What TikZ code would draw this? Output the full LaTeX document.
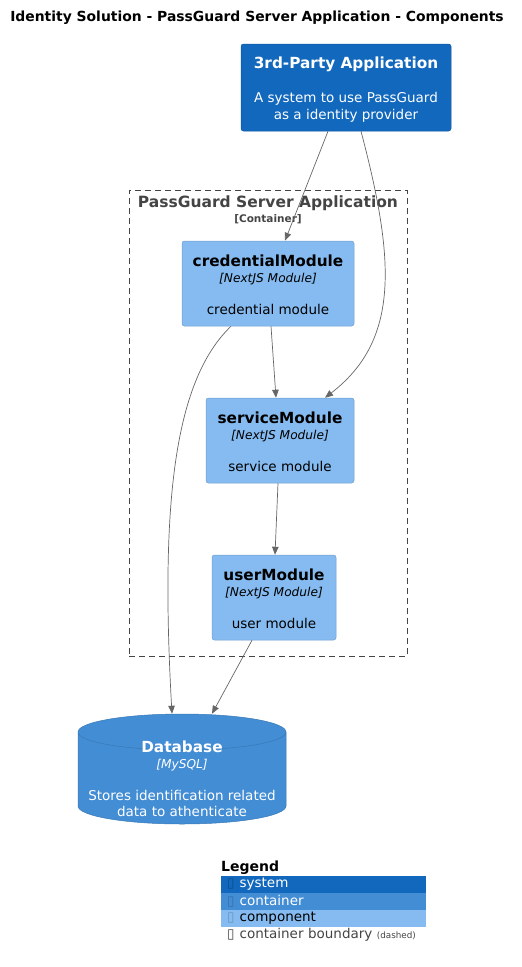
\documentclass[tikz,border=0pt]{standalone}
\usepackage{fontspec}
\setmainfont{DejaVu Sans}
\usetikzlibrary{arrows.meta,shapes.geometric}
\definecolor{sysblue}{HTML}{1168BD}
\definecolor{contblue}{HTML}{438DD5}
\definecolor{compblue}{HTML}{85BBF0}
\definecolor{edgegray}{HTML}{666666}
\definecolor{bndgray}{HTML}{444444}
\newcommand{\ttl}[1]{{\fontsize{15.3}{18}\selectfont\bfseries #1}}
\newcommand{\tech}[1]{{\fontsize{12.2}{14}\selectfont\itshape [#1]}}
\newcommand{\icn}{▯\hspace{5pt}}
\begin{document}
\begin{tikzpicture}[x=1pt, y=-1pt, font=\fontsize{13.5}{16}\selectfont,
	box/.style={rectangle, rounded corners=2.5pt, align=center, inner sep=0pt, line width=0.5pt},
	sys/.style={box, fill=sysblue, draw=sysblue!85!black, text=white, minimum height=87pt},
	comp/.style={box, fill=compblue, draw=compblue!85!black, minimum height=85pt},
	rel/.style={-{Triangle[length=8pt,width=6.5pt]}, draw=edgegray, line width=0.7pt},
	legrow/.style={anchor=north west, minimum height=16.5pt, inner ysep=0pt, inner xsep=6pt, text width=193pt, align=left}]
	\useasboundingbox (0,0) rectangle (522,967);
	\node (title) at (257,18) {\fontsize{13.9}{16}\selectfont\bfseries Identity Solution - PassGuard Server Application - Components};

	\node[draw=bndgray, dash pattern=on 6pt off 4pt, line width=0.7pt, minimum width=278pt, minimum height=466pt, inner sep=0pt] (bnd) at (268,423) {};
	\node[text=bndgray, align=center, font=\fontsize{15.5}{15.5}\selectfont] (bndname) at (268,210) {\bfseries PassGuard Server Application\\{\fontsize{10.5}{12}\selectfont\bfseries [Container]}};

	\node[sys, minimum width=210pt] (tp) at (346,87.5) {\rule{0pt}{15pt}\ttl{3rd-Party Application}\\[18pt]A system to use PassGuard\\[1pt]as a identity provider};
	\node[comp, minimum width=172pt] (cred) at (268,283.5) {\rule{0pt}{13.5pt}\ttl{credentialModule}\\\tech{NextJS Module}\\[16pt]credential module};
	\node[comp, minimum width=148pt] (svc) at (280,440.5) {\rule{0pt}{13.5pt}\ttl{serviceModule}\\\tech{NextJS Module}\\[16pt]service module};
	\node[comp, minimum width=124pt] (usr) at (274,597.5) {\rule{0pt}{13.5pt}\ttl{userModule}\\\tech{NextJS Module}\\[16pt]user module};
	\node[cylinder, shape border rotate=90, aspect=0.2, minimum width=208pt, minimum height=110pt, inner xsep=90pt, inner ysep=0pt, fill=contblue, draw=contblue!85!black, line width=0.5pt, anchor=shape center] (db) at (182,769) {};
	\node[text=white, align=center] (dbtext) at ([yshift=-10pt]db.shape center) {\ttl{Database}\\\tech{MySQL}\\[16pt]Stores identification related\\data to athenticate};

	\draw[rel] ([xshift=-18pt]tp.south) -- ([xshift=17pt]cred.north);
	\draw[rel] ([xshift=15pt]tp.south) .. controls (395,260) and (400,340) .. ([xshift=45pt]svc.north);
	\draw[rel] ([xshift=3pt]cred.south) -- ([xshift=-4pt]svc.north);
	\draw[rel] ([xshift=-37pt]cred.south) .. controls (175,380) and (160,500) .. ([xshift=-10pt]db.north);
	\draw[rel] ([xshift=-2pt]svc.south) -- ([xshift=1pt]usr.north);
	\draw[rel] ([xshift=-22pt]usr.south) -- ([xshift=30pt]db.north);

	\node[anchor=west, inner sep=0pt] (leg) at (221,868) {\fontsize{14}{16}\selectfont\bfseries Legend};
	\node[legrow, fill=sysblue, text=white] (lsys) at (221,876) {{\color{sysblue!75!black}\icn}system};
	\node[legrow, fill=contblue, text=white] (lcont) at (lsys.south west) {{\color{contblue!80!black}\icn}container};
	\node[legrow, fill=compblue] (lcomp) at (lcont.south west) {{\color{compblue!80!black}\icn}component};
	\node[legrow, text=bndgray] (lbnd) at (lcomp.south west) {\icn container boundary {\fontsize{8.8}{10}\selectfont(dashed)}};
\end{tikzpicture}
\end{document}
